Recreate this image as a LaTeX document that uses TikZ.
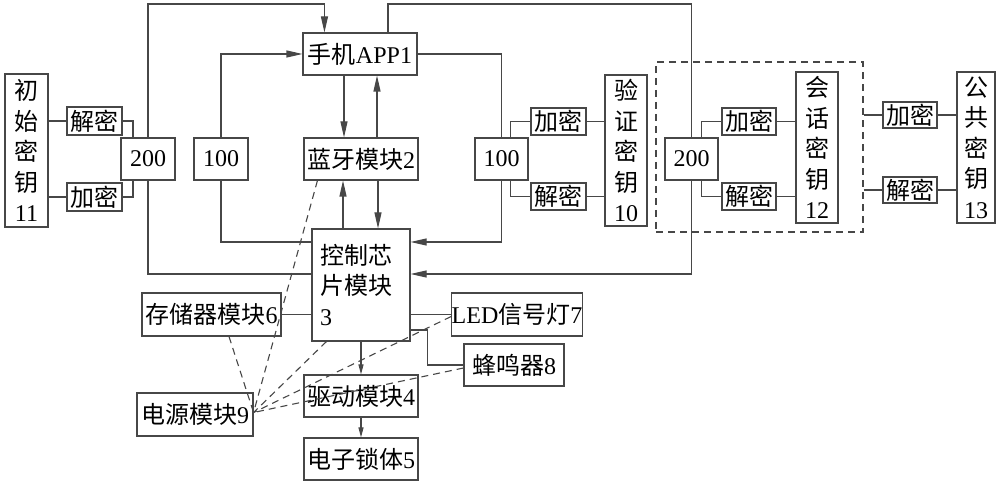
\documentclass[tikz,border=0pt]{standalone}
\usepackage{fontspec}
\setmainfont{Liberation Serif}
\newfontfamily\cjk{Noto Sans CJK SC}
\newcommand\zh[1]{{\cjk #1}}
\usetikzlibrary{arrows.meta,calc}
\tikzset{
  ln/.style={line width=0.55pt, draw=black!72},
  box/.style={ln, rectangle, inner sep=0pt, font=\fontsize{12}{15.25}\selectfont, align=center},
  sz/.style 2 args={minimum width=#1*0.5pt, minimum height=#2*0.5pt},
  arr/.style={ln, -{Triangle[length=8pt,width=3.5pt]}},
  sarr/.style={ln, -{Triangle[length=5pt,width=2.5pt]}},
  dsh/.style={ln, dash pattern=on 3.5pt off 2.5pt},
}
\begin{document}
\begin{tikzpicture}[x=0.5pt,y=-0.5pt]
\useasboundingbox (0,0) rectangle (1000,485);
% dashed group
\node[dsh, rectangle, inner sep=0pt, sz={207}{170}] (dbox) at (759.5,147) {};
% boxes
\node[box, sz={43}{153}] (k11) at (26.5,150.5) {\zh{初}\\\zh{始}\\\zh{密}\\\zh{钥}\\11};
\node[box, sz={55}{28}] (dL1) at (94.5,121) {\zh{解密}};
\node[box, sz={55}{28}] (eL1) at (94.5,197) {\zh{加密}};
\node[box, sz={54}{42}] (n200L) at (148,159) {200};
\node[box, sz={54}{42}] (n100L) at (221,159) {100};
\node[box, sz={114}{42}] (app) at (360,54) {\zh{手机}APP1};
\node[box, sz={114}{42}] (bt) at (361,159) {\zh{蓝牙模块}2};
\node[box, sz={53}{42}] (n100R) at (501.5,159) {100};
\node[box, sz={55}{27}] (eR1) at (558.5,121.5) {\zh{加密}};
\node[box, sz={55}{27}] (dR1) at (558.5,196.5) {\zh{解密}};
\node[box, sz={42}{151}] (k10) at (626,150.5) {\zh{验}\\\zh{证}\\\zh{密}\\\zh{钥}\\10};
\node[box, sz={53}{42}] (n200R) at (691.5,159) {200};
\node[box, sz={54}{27}] (eR2) at (749,121.5) {\zh{加密}};
\node[box, sz={54}{27}] (dR2) at (749,196.5) {\zh{解密}};
\node[box, sz={42}{151}] (k12) at (817,147.5) {\zh{会}\\\zh{话}\\\zh{密}\\\zh{钥}\\12};
\node[box, sz={54}{26}] (eR3) at (910,115) {\zh{加密}};
\node[box, sz={54}{26}] (dR3) at (910,190) {\zh{解密}};
\node[box, sz={38}{151}] (k13) at (976,147.5) {\zh{公}\\\zh{共}\\\zh{密}\\\zh{钥}\\13};
\node[box, sz={98}{112}, text width=41pt, align=left] (chip) at (361,285) {\zh{控制芯}\\\zh{片模块}\\3};
\node[box, sz={139}{43}] (mem) at (211.5,314.5) {\zh{存储器模块}6};
\node[box, sz={116}{43}] (pwr) at (195,414.5) {\zh{电源模块}9};
\node[box, sz={114}{42}] (drv) at (361,396) {\zh{驱动模块}4};
\node[box, sz={114}{42}] (lock) at (361,459) {\zh{电子锁体}5};
\node[box, sz={128}{43}] (led) at (517,314.5) {LED\zh{信号灯}7};
\node[box, sz={100}{42}] (buz) at (514,365) {\zh{蜂鸣器}8};
% helper coordinates
\coordinate (top) at (0,4);
\coordinate (conv) at ([yshift=1pt]pwr.east);
% left key group
\draw[ln] (dL1.west -| k11.east) -- (dL1.west);
\draw[ln] (eL1.west -| k11.east) -- (eL1.west);
\draw[ln] (dL1.east) -| ([xshift=-7.5pt]n200L.north);
\draw[ln] (eL1.east) -| ([xshift=-7.5pt]n200L.south);
\draw[arr] (n200L.north) -- (n200L.north |- top) -| ([xshift=11pt]app.north west);
\draw[ln] (n200L.south) |- ([yshift=5.5pt]chip.west);
\draw[arr] (n100L.north) |- (app.west);
\draw[ln] (n100L.south) |- ([yshift=21.5pt]chip.west);
% app - bluetooth - chip
\draw[arr] ([xshift=-8pt]app.south) -- ([xshift=-8pt]app.south |- bt.north);
\draw[arr] ([xshift=8.5pt]app.south |- bt.north) -- ([xshift=8.5pt]app.south);
\draw[arr] ([xshift=-9pt]chip.north) -- ([xshift=-9pt]chip.north |- bt.south);
\draw[arr] ([xshift=8.5pt]chip.north |- bt.south) -- ([xshift=8.5pt]chip.north);
% right verification group
\draw[ln] (app.east) -| (n100R.north);
\draw[arr] (n100R.south) |- ([yshift=21.5pt]chip.east);
\draw[ln] (eR1.west) -| ([xshift=4.5pt]n100R.north);
\draw[ln] (dR1.west) -| ([xshift=4.5pt]n100R.south);
\draw[ln] (eR1.east) -- (eR1.east -| k10.west);
\draw[ln] (dR1.east) -- (dR1.east -| k10.west);
% session group
\draw[ln] (n200R.north) -- (n200R.north |- top) -| ([xshift=14pt]app.north);
\draw[arr] (n200R.south) |- ([yshift=5.5pt]chip.east);
\draw[ln] (eR2.west) -| ([xshift=5pt]n200R.north);
\draw[ln] (dR2.west) -| ([xshift=5pt]n200R.south);
\draw[ln] (eR2.east) -- (eR2.east -| k12.west);
\draw[ln] (dR2.east) -- (dR2.east -| k12.west);
\draw[ln] (eR3.west -| dbox.east) -- (eR3.west);
\draw[ln] (dR3.west -| dbox.east) -- (dR3.west);
\draw[ln] (eR3.east) -- (eR3.east -| k13.west);
\draw[ln] (dR3.east) -- (dR3.east -| k13.west);
% bottom
\draw[sarr] (chip.south) -- (drv.north);
\draw[sarr] (drv.south) -- (lock.north);
\draw[ln] (mem.east) -- (mem.east -| chip.west);
\draw[ln] (led.west -| chip.east) -- (led.west);
\draw[ln] ([yshift=-22.5pt]chip.east) -- ++(17,0) |- (buz.west);
% dashed power lines
\draw[dsh] ([xshift=8.75pt]mem.south) -- (conv);
\draw[dsh] ([xshift=7pt]bt.south west) -- (conv);
\draw[dsh] ([xshift=7.5pt]chip.south west) -- (conv);
\draw[dsh] ([yshift=-1pt]led.west) -- (conv);
\draw[dsh] ([yshift=-1.5pt]buz.west) -- (conv);
\end{tikzpicture}
\end{document}
